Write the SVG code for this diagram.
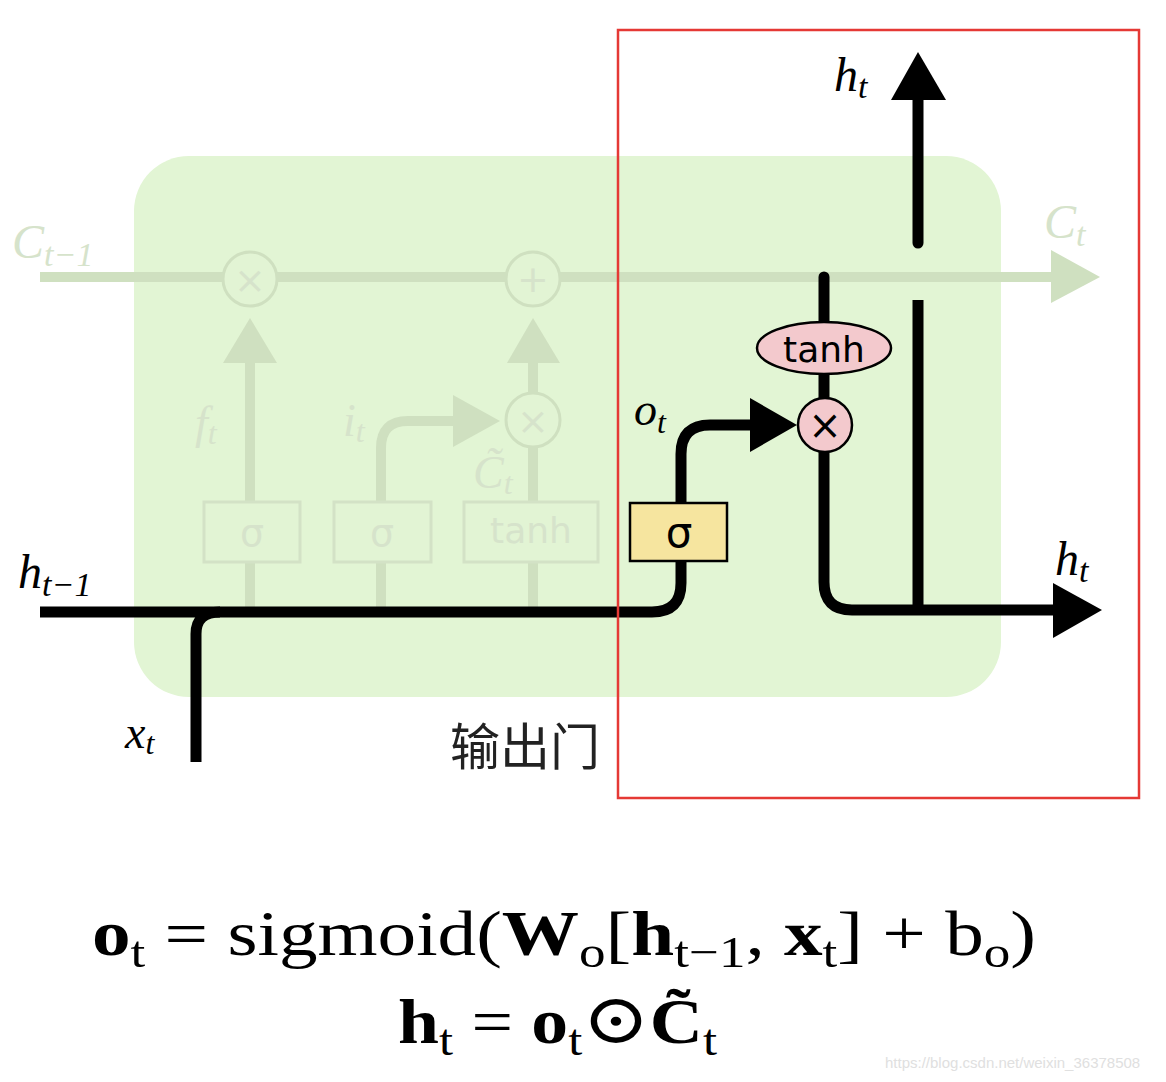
<svg xmlns="http://www.w3.org/2000/svg" width="1166" height="1082" viewBox="0 0 1166 1082">
<defs>
<style>
.fl{fill:none;stroke:#cfe0c0;stroke-width:10}
.fa{fill:#cfe0c0}
.fc{fill:#e2f4d4;stroke:#cfe0c0;stroke-width:3}
.fbox{fill:#e2f4d4;stroke:#d3e2c6;stroke-width:3}
.ftx{fill:#d6e3cb;font-family:"Liberation Serif",serif;font-style:italic}
.fgt{fill:#d6e3cb;font-family:"DejaVu Sans","Liberation Sans",sans-serif}
.bl{fill:none;stroke:#000;stroke-width:11}
.lab{fill:#000;font-family:"Liberation Serif",serif;font-style:italic}
.gt{fill:#000;font-family:"DejaVu Sans","Liberation Sans",sans-serif}
.eq{fill:#000;font-family:"Liberation Serif","DejaVu Serif",serif}
</style>
</defs>
<rect width="1166" height="1082" fill="#fff"/>
<g id="cell"><rect x="134" y="156" width="867" height="541" rx="55" ry="55" fill="#e2f5d4"/></g>

<g id="connectors">
<path class="fl" d="M40,277 H1055"/>
<polygon class="fa" points="1051,250 1100,277 1051,303"/>
<path class="fl" d="M250,612 V360"/>
<polygon class="fa" points="223,363 250,318 277,363"/>
<path class="fl" d="M381,612 V448 Q381,421 408,421 H456"/>
<polygon class="fa" points="453,395 500,421 453,447"/>
<path class="fl" d="M533,612 V360"/>
<polygon class="fa" points="507,363 533,318 560,363"/>
<path class="bl" d="M40,612 H652 Q681,612 681,583 V454 Q681,425 710,425 H752"/>
<polygon fill="#000" points="750,398 797,425 750,452"/>
<path class="bl" d="M196,762 V634 Q196,612 220,612"/>
<path class="bl" d="M824,277 V398" stroke-linecap="round"/>
<path class="bl" d="M824,450 V582 Q824,610 852,610 H1056"/>
<polygon fill="#000" points="1053,583 1102,610 1053,638"/>
<path class="bl" d="M918,615 V300"/>
<path class="bl" d="M918,243 V96" stroke-linecap="round"/>
<polygon fill="#000" points="891,100 918,52 946,100"/>
</g>

<g id="forget-mult"><circle class="fc" cx="250" cy="279" r="27"/><text class="fgt" x="250" y="293" font-size="38" text-anchor="middle">×</text></g>
<g id="add"><circle class="fc" cx="533" cy="279" r="27"/><text class="fgt" x="533" y="292" font-size="38" text-anchor="middle">+</text></g>
<g id="input-mult"><circle class="fc" cx="533" cy="420" r="27"/><text class="fgt" x="533" y="434" font-size="38" text-anchor="middle">×</text></g>
<g id="forget-sigma"><rect class="fbox" x="204" y="502" width="96" height="60"/><text class="fgt" x="252" y="546" font-size="38" text-anchor="middle">σ</text></g>
<g id="input-sigma"><rect class="fbox" x="334" y="502" width="97" height="60"/><text class="fgt" x="382" y="546" font-size="38" text-anchor="middle">σ</text></g>
<g id="candidate-tanh"><rect class="fbox" x="464" y="502" width="134" height="60"/><text class="fgt" x="531" y="543" font-size="36" text-anchor="middle">tanh</text></g>

<g id="output-sigma"><rect x="630" y="503" width="97" height="58" fill="#f6e59f" stroke="#000" stroke-width="2.5"/><text class="gt" x="679" y="547" font-size="42" text-anchor="middle">σ</text></g>
<g id="tanh-out"><ellipse cx="824" cy="348" rx="67" ry="26" fill="#f3c9cd" stroke="#000" stroke-width="2.5"/><text class="gt" x="824" y="362" font-size="36" text-anchor="middle">tanh</text></g>
<g id="output-mult"><circle cx="825" cy="425" r="27" fill="#f3c9cd" stroke="#000" stroke-width="2.5"/><text class="gt" x="825" y="439" font-size="40" text-anchor="middle">×</text></g>

<g id="labels">
<text class="ftx" x="12" y="258" font-size="48">C<tspan font-size="34" dy="8">t−1</tspan></text>
<text class="ftx" x="1044" y="238" font-size="48">C<tspan font-size="34" dy="8">t</tspan></text>
<text class="ftx" x="195" y="438" font-size="46">f<tspan font-size="32" dy="6">t</tspan></text>
<text class="ftx" x="343" y="436" font-size="46">i<tspan font-size="32" dy="6">t</tspan></text>
<text class="ftx" x="473" y="488" font-size="46">C̃<tspan font-size="32" dy="6">t</tspan></text>
<text class="lab" x="634" y="425" font-size="46">o<tspan font-size="32" dy="8">t</tspan></text>
<text class="lab" x="18" y="588" font-size="48">h<tspan font-size="34" dy="8">t−1</tspan></text>
<text class="lab" x="125" y="748" font-size="46">x<tspan font-size="32" dy="6">t</tspan></text>
<text class="lab" x="834" y="91" font-size="48">h<tspan font-size="34" dy="7">t</tspan></text>
<text class="lab" x="1055" y="575" font-size="48">h<tspan font-size="34" dy="7">t</tspan></text>
<text x="450" y="765" font-size="50" fill="#222" font-family="'Noto Sans CJK SC',sans-serif">输出门</text>
</g>

<rect id="highlight" x="618" y="30" width="521" height="768" fill="none" stroke="#e53935" stroke-width="2.5"/>

<g id="formulas">
<text class="eq" x="92" y="955" font-size="64" textLength="944" lengthAdjust="spacingAndGlyphs"><tspan font-weight="bold">o</tspan><tspan font-size="44" dy="12">t</tspan><tspan dy="-12"> = sigmoid(</tspan><tspan font-weight="bold">W</tspan><tspan font-size="44" dy="12">o</tspan><tspan dy="-12">[</tspan><tspan font-weight="bold">h</tspan><tspan font-size="44" dy="12">t−1</tspan><tspan dy="-12">, </tspan><tspan font-weight="bold">x</tspan><tspan font-size="44" dy="12">t</tspan><tspan dy="-12">] + b</tspan><tspan font-size="44" dy="12">o</tspan><tspan dy="-12">)</tspan></text>
<text class="eq" x="398" y="1043" font-size="64" textLength="319" lengthAdjust="spacingAndGlyphs"><tspan font-weight="bold">h</tspan><tspan font-size="44" dy="12">t</tspan><tspan dy="-12"> = </tspan><tspan font-weight="bold">o</tspan><tspan font-size="44" dy="12">t</tspan><tspan dy="-12" font-size="70">⊙</tspan><tspan font-weight="bold">C̃</tspan><tspan font-size="44" dy="12">t</tspan></text>
</g>
<text x="885" y="1068" font-size="15" fill="#e0e0e0" font-family="'Liberation Sans',sans-serif">https://blog.csdn.net/weixin_36378508</text>
</svg>
